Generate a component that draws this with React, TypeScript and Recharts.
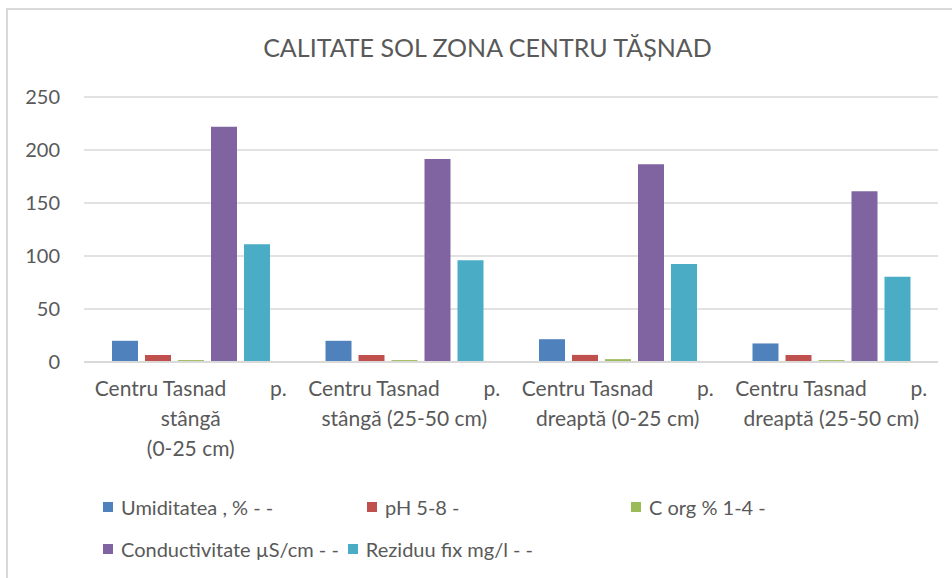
import { BarChart, Bar, XAxis, YAxis, CartesianGrid, Legend } from 'recharts';

// Sample points (x axis) – label lines as shown under each group
const categoryLabels = [
  ['Centru Tasnad p.', 'stângă', '(0-25 cm)'],
  ['Centru Tasnad p.', 'stângă (25-50 cm)'],
  ['Centru Tasnad p.', 'dreaptă (0-25 cm)'],
  ['Centru Tasnad p.', 'dreaptă (25-50 cm)'],
];

const seriesNames = [
  'Umiditatea , % - -',
  'pH 5-8 -',
  'C org % 1-4 -',
  'Conductivitate µS/cm - -',
  'Reziduu fix mg/l - -',
];

const umiditatea = [20, 20, 21.5, 17.5];
const ph = [6.6, 6.6, 6.7, 6.6];
const cOrg = [1.8, 1.8, 2.7, 1.8];
const conductivitate = [222, 191.5, 186.5, 161];
const reziduu = [111, 96, 92.5, 80.5];

const yTicks = [0, 50, 100, 150, 200, 250];

const colors = ['#4F81BD', '#C0504D', '#9BBB59', '#8064A2', '#4BACC6'];
const seriesKeys = ['umiditatea', 'ph', 'cOrg', 'conductivitate', 'reziduu'];

const chartData = categoryLabels.map((lines, i) => ({
  name: lines.join(' '),
  umiditatea: umiditatea[i],
  ph: ph[i],
  cOrg: cOrg[i],
  conductivitate: conductivitate[i],
  reziduu: reziduu[i],
}));

const TEXT = '#595959';
const GRID = '#D9D9D9';
const FONT = 'Lato, "Open Sans", sans-serif';

function CategoryTick({ x, y, payload }: any) {
  const lines = categoryLabels[payload.index] || [];
  const [head, ...rest] = lines;
  const cut = head.lastIndexOf(' ');
  const half = 96;
  const base = y + 26;
  return (
    <g fill={TEXT} fontFamily={FONT} fontSize={21}>
      <text x={x - half} y={base} textAnchor="start">{head.slice(0, cut)}</text>
      <text x={x + half} y={base} textAnchor="end">{head.slice(cut + 1)}</text>
      {rest.map((line, i) => (
        <text key={i} x={x} y={base + 30 * (i + 1)} textAnchor="middle">
          {line}
        </text>
      ))}
    </g>
  );
}

// keep series order as in Excel (Recharts sorts the payload)
function LegendContent() {
  return (
    <div style={{ display: 'flex', flexWrap: 'wrap', fontFamily: FONT, fontSize: 20, color: TEXT }}>
      {seriesNames.map((name, i) => (
        <div
          key={name}
          style={{
            display: 'flex',
            alignItems: 'center',
            height: 42,
            minWidth: i < 3 ? 264 : undefined,
            marginRight: i < 3 ? 0 : 9,
          }}
        >
          <span style={{ width: 10, height: 10, background: colors[i], marginRight: 8, display: 'inline-block' }} />
          <span>{name}</span>
        </div>
      ))}
    </div>
  );
}

export default function App() {
  return (
    <div style={{ position: 'absolute', left: 0, top: 0, width: 952, height: 578, background: '#fff', overflow: 'hidden' }}>
      <div
        style={{
          position: 'absolute',
          left: 6,
          top: 8,
          right: -4,
          bottom: -4,
          borderLeft: `2px solid ${GRID}`,
          borderTop: `2px solid ${GRID}`,
        }}
      />
      <div
        style={{
          position: 'absolute',
          left: 0,
          top: 32,
          width: 975,
          textAlign: 'center',
          fontFamily: FONT,
          fontSize: 25,
          lineHeight: '30px',
          color: TEXT,
        }}
      >
        CALITATE SOL ZONA CENTRU TĂȘNAD
      </div>
      <div style={{ position: 'absolute', left: 0, top: 0 }}>
        <BarChart
          width={952}
          height={578}
          data={chartData}
          margin={{ top: 97, right: 14, bottom: 0, left: 6 }}
          barGap={7}
          barCategoryGap={27}
        >
          <CartesianGrid vertical={false} stroke={GRID} strokeWidth={1.5} />
          <XAxis
            dataKey="name"
            height={216}
            axisLine={{ stroke: GRID, strokeWidth: 2 }}
            tickLine={false}
            interval={0}
            tick={<CategoryTick />}
          />
          <YAxis
            width={78}
            domain={[0, 250]}
            ticks={yTicks}
            axisLine={false}
            tickLine={false}
            tickSize={6}
            tickMargin={18}
            tick={{ fill: TEXT, fontSize: 20, fontFamily: FONT }}
          />
          <Legend
            layout="horizontal"
            verticalAlign="middle"
            align="center"
            wrapperStyle={{ top: 486, left: 103, width: 820 }}
            content={<LegendContent />}
          />
          {seriesKeys.map((key, i) => (
            <Bar
              key={key}
              dataKey={key}
              name={seriesNames[i]}
              fill={colors[i]}
              barSize={26}
              isAnimationActive={false}
            />
          ))}
        </BarChart>
      </div>
    </div>
  );
}
